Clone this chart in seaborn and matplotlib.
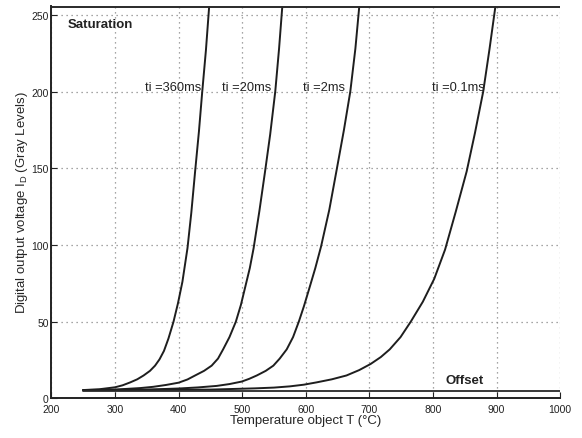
import numpy as np
import pandas as pd
import seaborn as sns
import matplotlib.pyplot as plt

# Values (T in degC, D in gray levels)
T_360ms = [250, 275, 300, 312, 324, 335, 345, 355, 363, 370, 377, 384, 392, 399, 406, 414, 420, 426, 432, 437, 443, 448]
D_360ms = [5.5, 6.0, 7.3, 8.6, 10.5, 12.5, 15.0, 18.0, 21.4, 25.5, 31, 39, 50, 62, 76, 98, 121, 148, 174, 199, 227, 255]

T_20ms = [250, 300, 340, 360, 380, 400, 414, 426, 440, 452, 462, 470, 480, 490, 498, 505, 512, 518, 527, 536, 544, 552, 558, 563]
D_20ms = [5.5, 5.8, 6.8, 7.6, 8.8, 10.3, 12.4, 15.0, 18.0, 21.4, 26.0, 32, 40, 50, 61, 73, 85, 98, 122, 148, 172, 200, 228, 255]

T_2ms = [250, 350, 400, 430, 460, 480, 499, 511, 523, 537, 549, 559, 570, 580, 589, 597, 605, 615, 624, 637, 649, 660, 670, 678, 684]
D_2ms = [5.5, 5.8, 6.5, 7.2, 8.2, 9.4, 11.0, 12.8, 15.0, 18.0, 21.4, 26.0, 32, 40, 50, 60, 71, 85, 99, 123, 150, 175, 200, 228, 255]

T_01ms = [250, 450, 520, 550, 575, 597, 617, 641, 664, 684, 702, 718, 732, 749, 765, 784, 802, 819, 836, 853, 866, 879, 889, 898]
D_01ms = [5.5, 5.8, 6.6, 7.1, 7.9, 9.0, 10.5, 12.5, 15.0, 18.5, 22.5, 27.0, 32, 40, 50, 63, 78, 97, 122, 148, 173, 200, 228, 255]

curve_labels = ["ti =360ms", "ti =20ms", "ti =2ms", "ti =0.1ms"]
label_T = [347, 468, 596, 798]
label_D = [203, 203, 203, 203]

saturation = 255
offset = 5

# Long-form table for seaborn
frames = []
for name, t, d in zip(curve_labels, [T_360ms, T_20ms, T_2ms, T_01ms], [D_360ms, D_20ms, D_2ms, D_01ms]):
    frames.append(pd.DataFrame({"T": t, "D": d, "ti": name}))
df = pd.concat(frames, ignore_index=True)

sns.set_style("ticks")
plt.rcParams['font.family'] = ['Liberation Sans', 'DejaVu Sans']
plt.rcParams['mathtext.fontset'] = 'custom'
plt.rcParams['mathtext.rm'] = 'Liberation Sans'

fig = plt.figure(figsize=(5.82, 4.39), dpi=100)
ax = fig.add_axes([0.0883, 0.09, 0.8742, 0.895])

sns.lineplot(data=df, x="T", y="D", hue="ti", palette=["#1e1e1e"] * 4, legend=False,
             sort=False, estimator=None, linewidth=1.4, ax=ax)

# Saturation and offset levels
ax.plot([200, 1000], [saturation, saturation], color="#2a2a2a", linewidth=1.4)
ax.plot([250, 1000], [offset, offset], color="#2a2a2a", linewidth=1.3)

# Curve labels
for lab, x, y in zip(curve_labels, label_T, label_D):
    ax.text(x, y, lab, fontsize=9.3, ha="left", va="center", color="#222222")
ax.text(226, 244, "Saturation", fontsize=9.5, fontweight="bold", ha="left", va="center", color="#222222")
ax.text(819, 12, "Offset", fontsize=9.5, fontweight="bold", ha="left", va="center", color="#222222")

ax.set_xlim(200, 1000)
ax.set_ylim(0, 256)
ax.set_xticks(np.arange(200, 1001, 100))
ax.set_yticks(np.arange(0, 251, 50))
ax.grid(True, linestyle=(0, (1, 3)), color="#888888", linewidth=0.9)
ax.tick_params(direction="in", length=4, labelsize=7.5, colors="#222222")
ax.tick_params(axis="x", pad=4)
ax.tick_params(axis="y", pad=2)

ax.set_xlabel("Temperature object T (°C)", fontsize=9.5, labelpad=0)
ax.set_ylabel(r"Digital output voltage I$_\mathrm{D}$ (Gray Levels)", fontsize=9.5, labelpad=1)

for s in ["top", "right"]:
    ax.spines[s].set_visible(False)
for s in ["left", "bottom"]:
    ax.spines[s].set_linewidth(1.4)
    ax.spines[s].set_color("#222222")

fig.savefig("out.png", dpi=100)
